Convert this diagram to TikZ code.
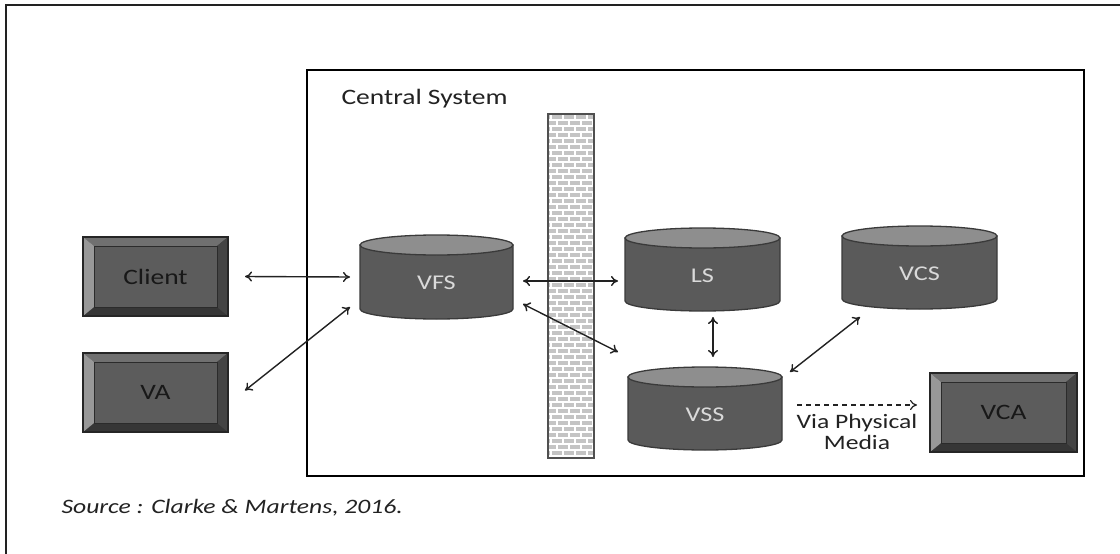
\documentclass[tikz,border=0pt]{standalone}
\usepackage{fontspec}
\setmainfont{Carlito}[FakeStretch=1.25]
\usetikzlibrary{arrows.meta}

\definecolor{ink}{HTML}{222222}
\definecolor{keyshade}{HTML}{363636}
\definecolor{keytop}{HTML}{707070}
\definecolor{keyleft}{HTML}{989898}
\definecolor{keyright}{HTML}{444444}
\definecolor{keyface}{HTML}{5c5c5c}
\definecolor{keyink}{HTML}{181818}
\definecolor{drumbody}{HTML}{5a5a5a}
\definecolor{drumcap}{HTML}{8e8e8e}
\definecolor{drumedge}{HTML}{3a3a3a}
\definecolor{druminkc}{HTML}{dadada}
\definecolor{brick}{HTML}{c4c4c4}
\definecolor{walledge}{HTML}{505050}

\tikzset{
  x=1pt, y=-1pt,
  frameline/.style={draw=ink, line width=1.6pt},
  sysbox/.style={draw=black, line width=2pt},
  link/.style={draw=ink, line width=1.4pt,
    {To[length=7pt,width=10pt]}-{To[length=7pt,width=10pt]}},
  medialink/.style={draw=ink, line width=1.2pt, dash pattern=on 5pt off 4pt,
    -{To[length=7pt,width=10pt]}},
  anchorbox/.style={inner sep=0pt, outer sep=0pt},
  keytext/.style={font=\fontsize{22}{24}\selectfont, text=keyink},
  drumtext/.style={font=\fontsize{21}{24}\selectfont, text=druminkc, yshift=-6pt},
  mortar/.style={draw=white, line width=1.1pt},
}

% bevelled key-cap box: name, left, top, right, bottom, text
\newcommand\drawkey[6]{%
  \fill[keyshade] (#2,#3) rectangle (#4,#5);
  \fill[keytop] (#2,#3) -- (#4,#3) -- (#4-11,#3+9) -- (#2+11,#3+9) -- cycle;
  \fill[keyleft] (#2,#3) -- (#2+11,#3+9) -- (#2+11,#5-9) -- (#2,#5) -- cycle;
  \fill[keyright] (#4,#3) -- (#4,#5) -- (#4-11,#5-9) -- (#4-11,#3+9) -- cycle;
  \fill[keyface] (#2+11,#3+9) rectangle (#4-11,#5-9);
  \draw[keyshade!80!black, line width=0.6pt] (#2+11,#3+9) rectangle (#4-11,#5-9);
  \draw[keyshade!70!black, line width=1.4pt] (#2,#3) rectangle (#4,#5);
  \node[anchorbox, keytext, minimum width={(#4-#2)*1pt}, minimum height={(#5-#3)*1pt}]
    (#1) at ({(#2+#4)/2},{(#3+#5)/2}) {#6};
}

% storage drum: name, left, top, right, bottom, text
\newcommand\drawdrum[6]{%
  \pgfmathsetmacro\drx{(#4-#2)/2}
  \filldraw[fill=drumbody, draw=drumedge, line width=1.3pt]
    (#2,#3+10) -- (#2,#5-10)
    arc[start angle=180, end angle=360, x radius=\drx pt, y radius=10pt]
    -- (#4,#3+10) -- cycle;
  \filldraw[fill=drumcap, draw=drumedge, line width=1.3pt]
    ({(#2+#4)/2},#3+10) ellipse[x radius=\drx pt, y radius=10pt];
  \node[anchorbox, minimum width={(#4-#2)*1pt}, minimum height={(#5-#3)*1pt},
    label={[drumtext]center:#6}]
    (#1) at ({(#2+#4)/2},{(#3+#5)/2}) {};
}

\begin{document}
\begin{tikzpicture}
\useasboundingbox (0,0) rectangle (1120,554);
\fill[white] (0,0) rectangle (1120,554);

% page frame
\draw[frameline] (6,560) -- (6,5) -- (1126,5);

% central system boundary
\draw[sysbox] (307,70) rectangle (1084,476);
\node[anchor=west, font=\fontsize{22}{24}\selectfont, text=ink] (cs) at (338,99) {Central System};

% firewall
\fill[brick] (548,114) rectangle (594,458);
\begin{scope}
  \clip (548,114) rectangle (594,458);
  \foreach \r in {0,...,57} {
    \pgfmathsetmacro\yy{114+6*\r}
    \pgfmathsetmacro\off{mod(\r,2)*6}
    \draw[mortar] (548,\yy) -- (594,\yy);
    \foreach \c in {0,...,3} {
      \draw[mortar] ({548+\off+12*\c+3},\yy) -- ++(0,6);
    }
  }
\end{scope}
\draw[walledge, line width=1.6pt] (548,114) rectangle (594,458);
\node[anchorbox, minimum width=46pt, minimum height=344pt] (wall) at (571,286) {};

% outside systems
\drawkey{client}{83}{237}{228}{316}{Client}
\drawkey{va}{83}{353}{228}{432}{VA}
\drawkey{vca}{930}{373}{1077}{452}{VCA}

% storage
\drawdrum{vfs}{360}{235}{513}{319}{VFS}
\drawdrum{ls}{625}{228}{780}{311}{LS}
\drawdrum{vcs}{842}{226}{997}{309}{VCS}
\drawdrum{vss}{628}{367}{782}{450}{VSS}

% connections
\draw[link] ([xshift=17pt]client.east) -- ([xshift=-10pt]vfs.west);
\draw[link] ([xshift=17pt,yshift=2pt]va.east) -- ([xshift=-10pt,yshift=-30pt]vfs.west);
\draw[link] ([xshift=10pt,yshift=-4pt]vfs.east) -- ([xshift=-7pt,yshift=-11.5pt]ls.west);
\draw[link] ([xshift=10pt,yshift=-27pt]vfs.east) -- ([xshift=-10pt,yshift=56.5pt]vss.west);
\draw[link] ([xshift=10.5pt,yshift=-6pt]ls.south) -- ([xshift=8pt,yshift=10pt]vss.north);
\draw[link] ([xshift=8pt,yshift=-5pt]vss.north east) -- ([xshift=18pt,yshift=-8pt]vcs.south west);
\draw[medialink] ([xshift=15pt,yshift=3.5pt]vss.east) -- ([xshift=-13pt,yshift=7.5pt]vca.west);
\node[align=center, font=\fontsize{20.5}{21}\selectfont, text=ink] (media) at (857,432)
  {Via Physical\\Media};

% source line
\node[anchor=west, font=\fontsize{20.5}{22}\selectfont\itshape, text=ink] (src) at (58,508)
  {Source : Clarke \& Martens, 2016.};
\end{tikzpicture}
\end{document}
